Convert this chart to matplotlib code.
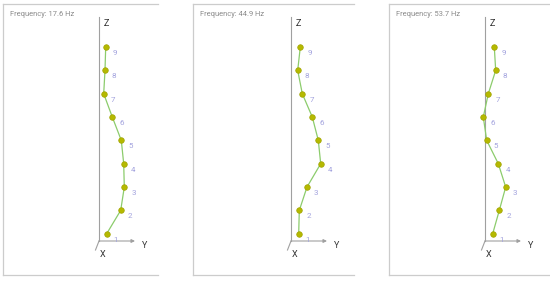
import matplotlib
matplotlib.use("Agg")
import matplotlib.pyplot as plt

plt.rcParams['font.family'] = ['Roboto', 'DejaVu Sans']

# mode shapes: horizontal (Y) displacement of levels 1..9
levels = [1, 2, 3, 4, 5, 6, 7, 8, 9]
freqs = ["17.6", "44.9", "53.7"]
mode1 = [7.7, 21.7, 25.3, 24.7, 22.3, 13.3, 4.7, 6.0, 6.7]
mode2 = [7.7, 8.3, 16.0, 29.7, 27.3, 21.3, 11.3, 6.7, 9.3]
mode3 = [7.7, 14.3, 20.7, 13.3, 1.7, -1.7, 3.3, 10.7, 9.3]
modes = [mode1, mode2, mode3]

W, H = 550, 283
fig = plt.figure(figsize=(W / 100, H / 100), dpi=100)

# panel frames (pixels): left, right, position of Z axis
panels = [(3, 158, 99), (193, 354, 291), (389, 551, 485)]
top_px, bot_px = 4, 275
step = 23.33          # px per level
lvl1_px = 233.7       # pixel row of level 1

frame_col = "#cccccc"
axis_col = "#a0a0a0"

for (l, r, zx), f, disp in zip(panels, freqs, modes):
    ax = fig.add_axes([l / W, (H - bot_px) / H, (r - l) / W, (bot_px - top_px) / H])
    ax.set_xlim(l - zx, r - zx)
    ax.set_ylim(1 - (bot_px - lvl1_px) / step, 1 + (lvl1_px - top_px) / step)
    for s in ["left", "top", "bottom"]:
        ax.spines[s].set_color(frame_col)
        ax.spines[s].set_linewidth(0.9)
    ax.spines["right"].set_visible(False)
    ax.set_xticks([])
    ax.set_yticks([])

    o = 1 - 7.3 / step
    ztop = 1 + (lvl1_px - 17) / step
    # axes
    ax.plot([0, 0], [o, ztop], color=axis_col, lw=0.8)
    ax.annotate("", xy=(36, o), xytext=(0, o),
                arrowprops=dict(arrowstyle="-|>", color=axis_col, lw=0.8,
                                mutation_scale=5, shrinkA=0, shrinkB=0))
    ax.plot([0, -3.5], [o, o - 9 / step], color=axis_col, lw=0.8)
    ax.text(7.7, 1 + (lvl1_px - 23) / step, "Z", fontsize=6.5, color="#333333",
            ha="center", va="center")
    ax.text(46, 1 + (lvl1_px - 245) / step, "Y", fontsize=6.5, color="#333333",
            ha="center", va="center")
    ax.text(3.7, 1 + (lvl1_px - 254.5) / step, "X", fontsize=6.5, color="#333333",
            ha="center", va="center")

    ax.plot(disp, levels, color="#8ccc6c", lw=0.9, zorder=3)
    ax.plot(disp, levels, "o", ms=4.0, mfc="#b5b900", mec="#a0a300", mew=0.5, zorder=4)
    for x, z in zip(disp, levels):
        ax.annotate(str(z), (x, z), xytext=(6.7, -4.3), textcoords="offset points",
                    fontsize=5.8, color="#a3a3de", ha="center", va="center")

    ax.text(7 / (r - l), 1 - (14 - top_px) / (bot_px - top_px),
            "Frequency: " + f + " Hz", transform=ax.transAxes,
            fontsize=5.4, color="#8a8a8a", ha="left", va="center")

fig.savefig("out.png", dpi=100)
